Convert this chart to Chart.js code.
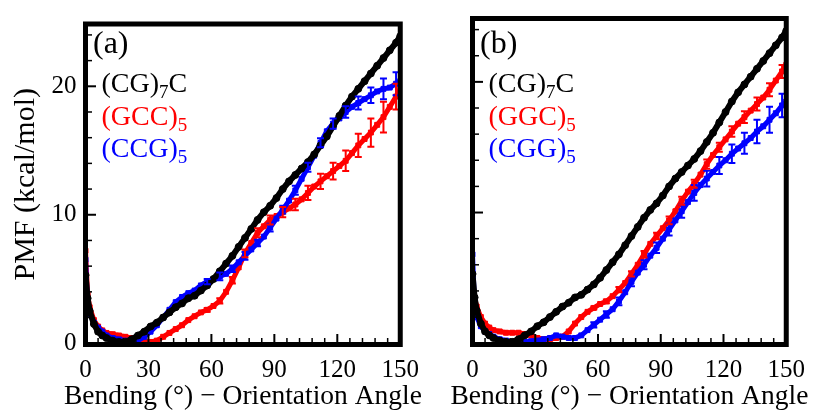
<!DOCTYPE html>
<html><head><meta charset="utf-8">
<script src="https://cdn.jsdelivr.net/npm/chart.js@4"></script>
<style>
html,body{margin:0;padding:0;background:#fff;}
#wrap{position:relative;width:816px;height:410px;overflow:hidden;}
.p{position:absolute;top:0;height:410px;}
</style></head><body>
<div id="wrap">
<div class="p" style="left:0;width:430px"><canvas id="ca" width="430" height="410"></canvas></div>
<div class="p" style="left:430px;width:386px"><canvas id="cb" width="386" height="410"></canvas></div>
</div>
<script>
// ---- data ----
const angles = [0,1,2,4,6,8,10,13,16,19,22,25,28,31,34,37,40,43,46,49,52,55,58,61,64,67,70,73,76,79,82,85,88,91,94,97,100,103,106,109,112,115,118,121,124,127,130,133,136,139,142,145,148,150];
const pmfCG7C = [5.3,3.5,2.5,1.5,0.9,0.6,0.4,0.2,0.1,0.1,0.3,0.6,0.9,1.3,1.6,2.0,2.4,2.8,3.1,3.5,3.7,4.1,4.5,5.0,5.6,6.2,6.8,7.5,8.2,8.9,9.6,10.2,10.7,11.3,12.0,12.6,13.1,13.6,14.1,14.7,15.4,16.1,16.9,17.7,18.5,19.2,19.8,20.4,21.0,21.6,22.2,22.8,23.4,23.9];
const pmfGCC5 = [7.2,3.8,2.8,1.8,1.3,1.0,0.8,0.7,0.6,0.5,0.4,0.3,0.15,0.1,0.2,0.5,0.8,1.1,1.4,1.8,2.1,2.4,2.6,2.9,3.3,4.0,4.9,5.9,7.0,7.8,8.6,9.1,9.6,9.9,10.2,10.5,10.8,11.2,11.7,12.2,12.6,13.0,13.4,13.8,14.2,14.8,15.4,15.9,16.4,17.0,17.6,18.4,19.2,19.8];
const pmfCCG5 = [6.5,3.0,2.3,1.6,1.2,0.9,0.6,0.4,0.3,0.2,0.05,0.2,0.5,0.9,1.4,2.0,2.6,3.2,3.6,3.9,4.1,4.5,4.8,5.0,5.2,5.4,5.8,6.3,6.8,7.3,7.8,8.3,9.0,9.7,10.4,11.1,11.9,12.8,13.7,14.6,15.6,16.5,17.1,17.5,18.0,18.4,18.7,19.0,19.3,19.6,19.8,19.9,20.2,20.4];
const pmfGGC5 = [4.8,3.5,2.8,2.0,1.5,1.2,1.0,0.9,0.8,0.8,0.8,0.7,0.6,0.4,0.3,0.3,0.4,0.5,0.9,1.5,2.0,2.4,2.7,3.0,3.2,3.6,4.1,4.6,5.3,6.0,6.8,7.6,8.2,8.8,9.4,10.1,10.9,11.6,12.2,12.9,13.7,14.4,15.0,15.6,16.2,16.8,17.3,17.8,18.3,18.8,19.4,20.1,20.8,21.3];
const pmfCGG5 = [6.8,2.8,2.0,1.3,0.9,0.7,0.5,0.3,0.2,0.1,0.05,0.1,0.15,0.2,0.3,0.4,0.6,0.5,0.4,0.4,0.6,1.0,1.4,1.8,2.2,2.6,3.2,3.9,4.7,5.4,6.0,6.7,7.3,8.0,8.7,9.4,10.1,10.8,11.5,12.1,12.6,13.1,13.6,14.0,14.5,14.9,15.3,15.7,16.2,16.6,17.1,17.6,18.2,18.5];
const errAngles = [58,64,70,76,82,88,94,100,106,112,118,124,130,136,142,148];
const errGCC5 = [0.15,0.2,0.25,0.3,0.35,0.35,0.4,0.45,0.55,0.6,0.65,0.8,0.9,1.1,1.2,1.0];
const errCCG5 = [0.2,0.3,0.25,0.3,0.25,0.3,0.3,0.35,0.35,0.35,0.4,0.45,0.5,0.6,0.8,0.9];
const errGGC5 = [0.1,0.15,0.2,0.2,0.25,0.25,0.3,0.3,0.3,0.35,0.35,0.4,0.45,0.5,0.5,0.5];
const errCGG5 = [0.2,0.25,0.3,0.35,0.35,0.4,0.45,0.5,0.6,0.6,0.65,0.7,0.8,0.9,1.0,0.9];
const xTicks = [0,30,60,90,120,150];
const yTicks = [0,10,20];
const xMinorStep = 6, yMinorStep = 2;
const xTitle = 'Bending (°) − Orientation Angle';
const yTitle = 'PMF (kcal/mol)';

const SERIF = '"Liberation Serif", "Times New Roman", serif';
const toXY = arr => arr.map((v,i)=>({x:angles[i], y:v}));

function ds(label, arr, color, style, errs){
  const black = style==='circle';
  return {
    label, data: toXY(arr), borderColor: color, backgroundColor: color,
    borderWidth: black?6:5, pointStyle: style,
    pointRadius: black?3.5:3.5, pointBorderWidth: 1,
    pointBackgroundColor: color, pointBorderColor: color,
    tension: 0, fill: false, errs: errs || null
  };
}

const errPlugin = {
  id:'errbars',
  afterDatasetsDraw(chart){
    const {ctx, chartArea:a, scales:{x, y}} = chart;
    ctx.save();
    ctx.beginPath(); ctx.rect(a.left, a.top, a.right-a.left, a.bottom-a.top); ctx.clip();
    chart.data.datasets.forEach(d=>{
      if(!d.errs) return;
      ctx.strokeStyle = d.borderColor; ctx.lineWidth = 2;
      errAngles.forEach((ang,i)=>{
        const idx = angles.indexOf(ang); if(idx<0) return;
        const v = d.data[idx].y, e = d.errs[i];
        const px = x.getPixelForValue(ang);
        const p1 = y.getPixelForValue(v+e), p2 = y.getPixelForValue(v-e);
        ctx.beginPath();
        ctx.moveTo(px,p1); ctx.lineTo(px,p2);
        ctx.moveTo(px-3.5,p1); ctx.lineTo(px+3.5,p1);
        ctx.moveTo(px-3.5,p2); ctx.lineTo(px+3.5,p2);
        ctx.stroke();
      });
    });
    ctx.restore();
  }
};

const framePlugin = {
  id:'frame',
  afterDraw(chart, args, opts){
    const {ctx, chartArea:a, scales:{x, y}} = chart;
    ctx.save();
    ctx.strokeStyle='#000';
    for(let v=0; v<=150; v+=xMinorStep){
      const major = v%30===0; const px = x.getPixelForValue(v);
      ctx.lineWidth = major?2:1.5;
      ctx.beginPath(); ctx.moveTo(px, a.bottom-2); ctx.lineTo(px, a.bottom-2.5-(major?8:4)); ctx.stroke();
    }
    for(let v=0; v<=24; v+=yMinorStep){
      const major = v%10===0; const py = y.getPixelForValue(v);
      ctx.lineWidth = major?2:1.5;
      ctx.beginPath(); ctx.moveTo(a.left+2, py); ctx.lineTo(a.left+2.5+(major?8:4), py); ctx.stroke();
    }
    ctx.lineWidth=5;
    ctx.strokeRect(a.left, a.top, a.right-a.left, a.bottom-a.top);
    ctx.fillStyle='#000';
    ctx.textAlign='center'; ctx.textBaseline='middle';
    ctx.font='27.5px '+SERIF;
    ctx.fillText(xTitle, (a.left+a.right)/2, 397);
    if(opts.yTitle){
      ctx.save();
      ctx.translate(26.5, (a.top+a.bottom)/2);
      ctx.rotate(-Math.PI/2);
      ctx.font='30px '+SERIF;
      ctx.fillText(yTitle, 0, 0);
      ctx.restore();
    }
    ctx.textAlign='left'; ctx.textBaseline='alphabetic';
    ctx.font='32px '+SERIF;
    ctx.fillText(opts.tag, a.left+7.5, 53);
    const bases=[92,125,157];
    opts.labels.forEach((l,i)=>{
      let xx = a.left+16; const yy = bases[i];
      ctx.fillStyle=l.color;
      ctx.font='28px '+SERIF; ctx.fillText(l.main, xx, yy); xx+=ctx.measureText(l.main).width;
      ctx.font='19px '+SERIF; ctx.fillText(l.sub, xx, yy+6); xx+=ctx.measureText(l.sub).width;
      if(l.tail){ ctx.font='28px '+SERIF; ctx.fillText(l.tail, xx, yy); }
    });
    ctx.restore();
  }
};

function makeChart(id, datasets, tag, labels, left){
  return new Chart(document.getElementById(id), {
    type:'line',
    data:{datasets},
    plugins:[errPlugin, framePlugin],
    options:{
      responsive:false, animation:false, devicePixelRatio:1,
      layout:{padding:{top:18.5, right: left?23.5:22.5, left:0, bottom:0}},
      plugins:{legend:{display:false}, tooltip:{enabled:false}, frame:{tag, labels, yTitle:left}},
      scales:{
        x:{type:'linear', min:0, max:150,
          grid:{display:false, drawTicks:false}, border:{display:false},
          afterBuildTicks(s){ s.ticks = xTicks.map(v=>({value:v})); },
          ticks:{color:'#000', font:{family:SERIF, size:25, lineHeight:1.2}, padding:11, maxRotation:0, autoSkip:false},
          title:{display:false},
          afterFit(s){ s.height = 65.5; }
        },
        y:{type:'linear', min:-0.1, max:24.85,
          grid:{display:false, drawTicks:false}, border:{display:false},
          afterBuildTicks(s){ s.ticks = yTicks.map(v=>({value:v})); },
          ticks:{display:left, color:'#000', font:{family:SERIF, size:25}, padding:9},
          title:{display:false},
          afterFit(s){ s.width = left?85.5:42.5; }
        }
      }
    }
  });
}

makeChart('ca', [
  ds('(CG)7C', pmfCG7C, '#000000', 'circle'),
  ds('(CCG)5', pmfCCG5, '#0000ff', 'rect', errCCG5),
  ds('(GCC)5', pmfGCC5, '#ff0000', 'rect', errGCC5)
], '(a)', [
  {main:'(CG)', sub:'7', tail:'C', color:'#000000'},
  {main:'(GCC)', sub:'5', color:'#ff0000'},
  {main:'(CCG)', sub:'5', color:'#0000ff'}
], true);

makeChart('cb', [
  ds('(CG)7C', pmfCG7C, '#000000', 'circle'),
  ds('(CGG)5', pmfCGG5, '#0000ff', 'rect', errCGG5),
  ds('(GGC)5', pmfGGC5, '#ff0000', 'rect', errGGC5)
], '(b)', [
  {main:'(CG)', sub:'7', tail:'C', color:'#000000'},
  {main:'(GGC)', sub:'5', color:'#ff0000'},
  {main:'(CGG)', sub:'5', color:'#0000ff'}
], false);
</script>
</body></html>
